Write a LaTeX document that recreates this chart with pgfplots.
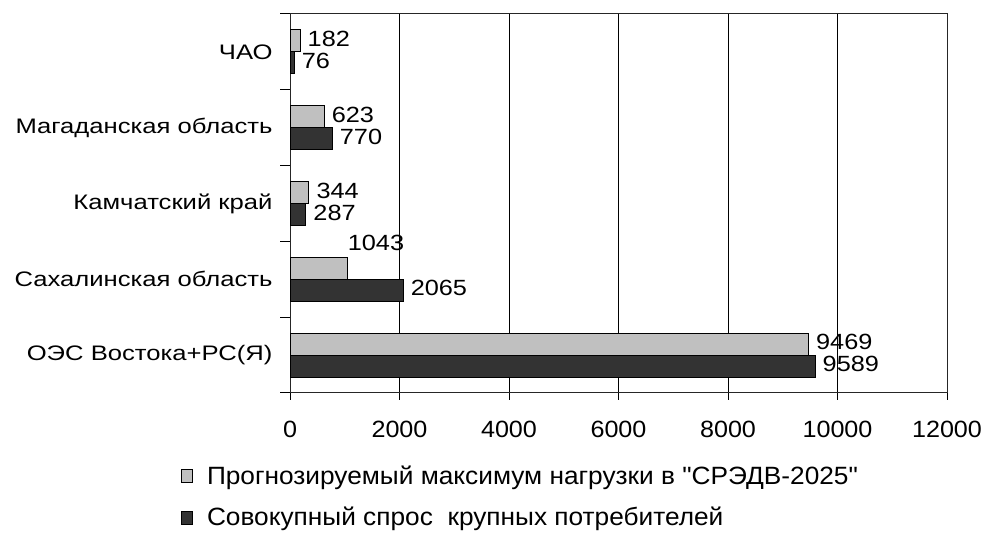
\documentclass[border=0pt]{standalone}
\usepackage{fontspec}
\setmainfont{Liberation Sans}
\newfontfamily\tickfont[FakeStretch=1.07]{Liberation Sans}
\newfontfamily\catfont[FakeStretch=1.22]{Liberation Sans}
\newfontfamily\datfont[FakeStretch=1.15]{Liberation Sans}
\newfontfamily\legfont[FakeStretch=1.05]{Liberation Sans}
\usepackage{pgfplots}
\usepackage{pgfplotstable}
\pgfplotsset{compat=1.18}
\definecolor{lightbar}{HTML}{C0C0C0}
\definecolor{darkbar}{HTML}{333333}

\pgfplotstableread{
y x dx dy
0 9469 4 2
1 1043 -3 25
2 344 4 2
3 623 4 2
4 182 4 2
}\lighttab
\pgfplotstableread{
y x dx dy
0 9589 4 2
1 2065 4 2
2 287 4 2
3 770 4 2
4 76 4 2
}\darktab

\begin{document}
\begin{tikzpicture}
\path[use as bounding box] (0,0) rectangle (984pt,534pt);
\begin{axis}[
  at={(290pt,141pt)}, anchor=south west,
  scale only axis, width=657pt, height=379pt,
  xbar, bar width=22pt,
  xmin=0, xmax=12000, ymin=-0.5, ymax=4.5,
  xtick={0,2000,...,12000},
  scaled x ticks=false,
  /pgf/number format/1000 sep={},
  /pgf/number format/assume math mode=true,
  xmajorgrids, major grid style={black, line width=0.8pt},
  ytick={0,1,2,3,4},
  yticklabels={ОЭС Востока+РС(Я), Сахалинская область, Камчатский край, Магаданская область, ЧАО},
  minor ytick={-0.5,0.5,1.5,2.5,3.5,4.5},
  xtick pos=bottom, ytick pos=left,
  tick align=outside,
  major tick length=7pt, minor tick length=10pt,
  major y tick style={draw=none},
  minor y tick style={black, line width=1pt},
  x tick style={black, line width=1pt},
  axis line style={black!85, line width=1pt},
  x tick label style={font=\tickfont\fontsize{23.5}{23.5}\selectfont, yshift=-18pt},
  y tick label style={font=\catfont\fontsize{21}{21}\selectfont, xshift=-7pt},
  clip=false,
  legend style={draw=none, fill=none, at={(axis description cs:-0.1659,-0.1877)}, anchor=north west,
    legend columns=1, row sep=17pt, font=\legfont\fontsize{25}{25}\selectfont,
    cells={anchor=west}, inner sep=0pt, nodes={inner sep=2pt},
    /tikz/every odd column/.append style={column sep=12pt}},
]
\addplot[fill=lightbar, draw=black, line width=0.8pt, bar shift=11pt,
  legend image code/.code={\draw[fill=lightbar, draw=black, line width=0.8pt] (0pt,-6.5pt) rectangle (11pt,6.5pt);},
  point meta=explicit symbolic, nodes near coords,
  visualization depends on={\thisrow{dx} \as \dx},
  visualization depends on={\thisrow{dy} \as \dy},
  every node near coord/.append style={anchor=west, font=\datfont\fontsize{22}{22}\selectfont, text=black, xshift=\dx pt, yshift=\dy pt}]
  table[x=x, y=y, meta=x] {\lighttab};
\addlegendentry{Прогнозируемый максимум нагрузки в {\char34}СРЭДВ-2025{\char34}}
\addplot[fill=darkbar, draw=black, line width=0.8pt, bar shift=-11pt,
  legend image code/.code={\draw[fill=darkbar, draw=black, line width=0.8pt] (0pt,-6.5pt) rectangle (11pt,6.5pt);},
  point meta=explicit symbolic, nodes near coords,
  visualization depends on={\thisrow{dx} \as \dx},
  visualization depends on={\thisrow{dy} \as \dy},
  every node near coord/.append style={anchor=west, font=\datfont\fontsize{22}{22}\selectfont, text=black, xshift=\dx pt, yshift=\dy pt}]
  table[x=x, y=y, meta=x] {\darktab};
\addlegendentry{Совокупный спрос\ \ крупных потребителей}
\end{axis}
\end{tikzpicture}
\end{document}
